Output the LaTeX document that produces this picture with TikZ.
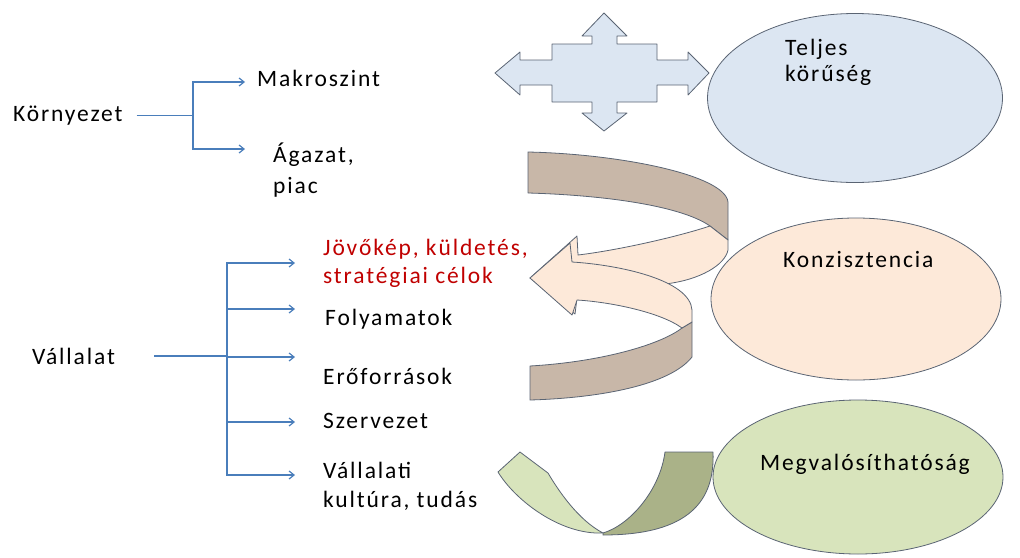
\documentclass[tikz,border=0pt]{standalone}
\usepackage{fontspec}
\setmainfont{Carlito}[LetterSpace=8]
\usepackage{tikz}
\usetikzlibrary{positioning,shapes.geometric,arrows.meta}

\definecolor{nyilkek}{RGB}{74,126,187}
\definecolor{korvonal}{RGB}{90,100,115}
\definecolor{halvkek}{RGB}{220,230,242}
\definecolor{barack}{RGB}{253,233,217}
\definecolor{barna}{RGB}{200,183,168}
\definecolor{halvzold}{RGB}{216,228,188}
\definecolor{olivzold}{RGB}{170,178,136}
\definecolor{pirosbetu}{RGB}{192,0,0}

\begin{document}
\begin{tikzpicture}[x=1pt, y=-1pt, font=\fontsize{23.5}{28}\selectfont,
    felirat/.style={anchor=base west, inner sep=0pt, align=left},
    ag/.style={draw=nyilkek, line width=1.2pt},
    nyil/.style={ag, -{Straight Barb[length=5pt,width=8pt]}},
    folt/.style={ellipse, draw=korvonal, line width=0.8pt, inner sep=0pt},
    szalag/.style={draw=korvonal, line width=0.8pt, line join=round}]

    \useasboundingbox (0,0) rectangle (1020,557);

    % Környezet ága
    \node[felirat] (korny) at (13,121) {Környezet};
    \node[felirat] (makro) at (257,86) {Makroszint};
    \node[felirat] (agazat) at (273,193) {Ágazat,\\[3pt]piac};
    \coordinate (kelag) at (korny.east -| 193,0);
    \coordinate (kcel1) at (245,82);
    \coordinate (kcel2) at (245,149);
    \draw[ag, shorten <=14pt] (korny.east) -- (kelag);
    \draw[nyil] (kelag) |- (kcel1);
    \draw[nyil] (kelag) |- (kcel2);

    % Vállalat ága
    \node[felirat] (vall) at (32,364) {Vállalat};
    \node[felirat, text=pirosbetu] (jovo) at (323,283) {Jövőkép, küldetés,\\stratégiai célok};
    \node[felirat] (foly) at (325,325) {Folyamatok};
    \node[felirat] (ero) at (323,384) {Erőforrások};
    \node[felirat] (szerv) at (323,428) {Szervezet};
    \node[felirat] (vkult) at (323,507) {Vállalati\\[1pt]kultúra, tudás};
    \coordinate (velag) at (vall.east -| 227,0);
    \foreach \y [count=\i] in {263,309,357,422,475}
        \coordinate (vcel\i) at (295,\y);
    \draw[ag, shorten <=39pt] (vall.east) -- (velag);
    \foreach \i in {1,...,5}
        \draw[nyil] (velag) |- (vcel\i);

    % Négyirányú nyíl
    \filldraw[szalag, fill=halvkek] (495,73) -- (520,52) -- (520,60) -- (552,60)
        -- (552,44) -- (592,44) -- (592,36) -- (582,36) -- (604,13) -- (627,36)
        -- (617,36) -- (617,44) -- (657,44) -- (657,60) -- (688,60) -- (688,52)
        -- (709,73) -- (688,95) -- (688,85) -- (657,85) -- (657,102) -- (617,102)
        -- (617,113) -- (627,113) -- (604,131) -- (582,113) -- (592,113)
        -- (592,102) -- (552,102) -- (552,85) -- (520,85) -- (520,95) -- cycle;

    % Körbeforduló szalag: hátsó részek
    \filldraw[szalag, fill=barna] (528,152) .. controls (620,154) and (725,175) .. (728,202)
        -- (728,240) -- (710,226) .. controls (680,205) and (600,195) .. (528,193) -- cycle;
    \filldraw[szalag, fill=barna] (530,366) .. controls (600,362) and (660,345) .. (682,328)
        -- (692,322) -- (692,357) .. controls (670,385) and (600,398) .. (530,400) -- cycle;
    % elülső részek
    \filldraw[szalag, fill=barack] (530,278) -- (577,236) -- (578,255)
        .. controls (620,250) and (680,236) .. (710,226) -- (728,240) -- (728,250)
        .. controls (725,265) and (700,280) .. (665,284)
        .. controls (630,288) and (600,294) .. (577,298) -- (575,314) -- cycle;
    \filldraw[szalag, fill=barack] (530,278) -- (570,243) -- (572,262)
        .. controls (620,265) and (690,280) .. (692,310) -- (692,322) -- (682,328)
        .. controls (660,312) and (610,302) .. (577,300) -- (572,315) -- cycle;

    % U alakú szalag
    \filldraw[szalag, fill=halvzold] (498,472) -- (520,452) -- (548,473)
        .. controls (558,490) and (578,520) .. (603,533)
        .. controls (560,535) and (515,500) .. (498,472) -- cycle;
    \filldraw[szalag, fill=olivzold] (603,533) .. controls (630,525) and (660,490) .. (665,452)
        -- (713,452) .. controls (715,500) and (690,535) .. (603,535) -- cycle;

    % Ellipszisek
    \node[folt, fill=halvkek, minimum width=295pt, minimum height=169pt] (e1) at (855,98) {};
    \node[folt, fill=barack, minimum width=290pt, minimum height=162pt] (e2) at (856,299) {};
    \node[folt, fill=halvzold, minimum width=290pt, minimum height=154pt] (e3) at (858,477) {};
    \node[felirat] (teljes) at (785,81) {Teljes\\[-2pt]körűség};
    \node[felirat] (konz) at (783,267) {Konzisztencia};
    \node[felirat] (megv) at (760,470) {Megvalósíthatóság};

\end{tikzpicture}
\end{document}
